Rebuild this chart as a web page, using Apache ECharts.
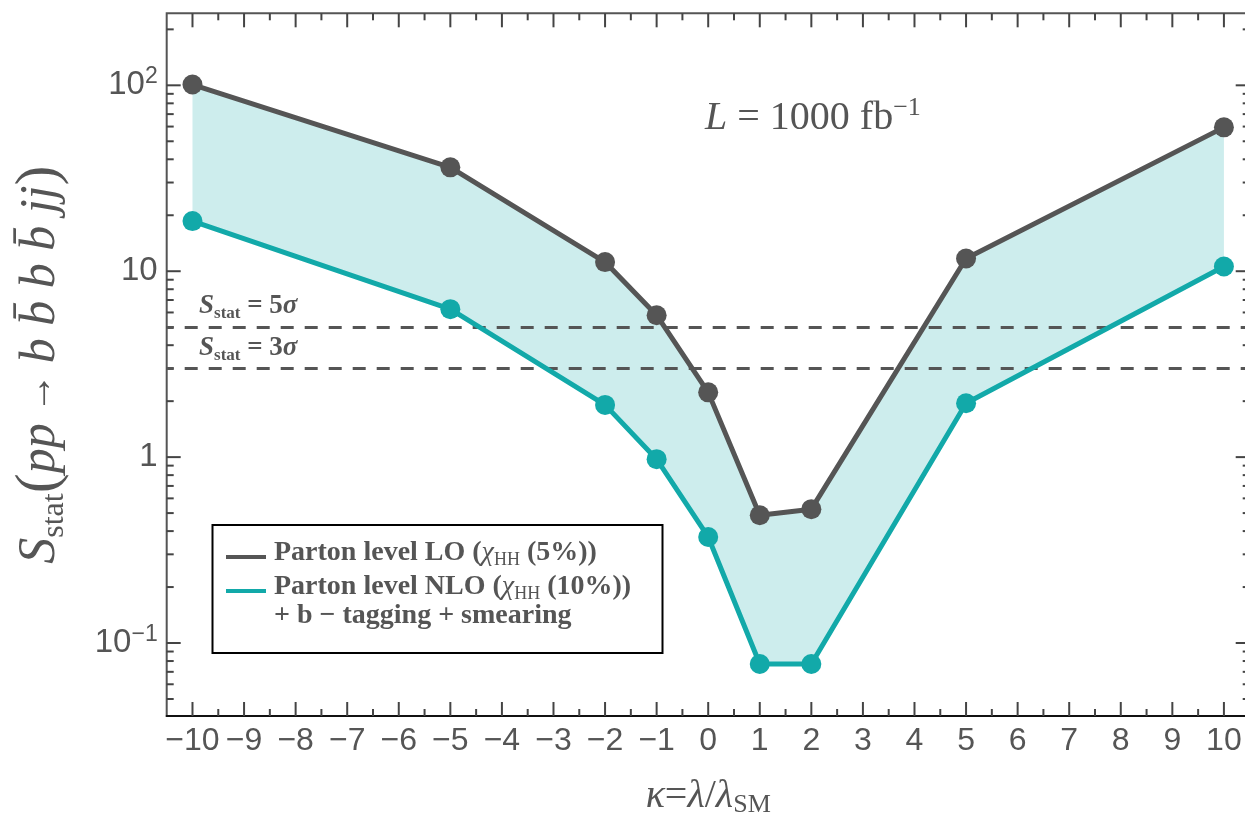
<!DOCTYPE html>
<html><head><meta charset="utf-8">
<script src="https://cdn.jsdelivr.net/npm/echarts@6/dist/echarts.min.js"></script>
<style>html,body{margin:0;padding:0;background:#fff}#c{width:1245px;height:816px}</style>
</head><body><div id="c"></div><script>
// ---- data ----
const kappa = [-10, -5, -2, -1, 0, 1, 2, 5, 10];
const loValues = [101, 36.2, 11.2, 5.8, 2.23, 0.487, 0.525, 11.7, 59.4];
const nloValues = [18.6, 6.25, 1.91, 0.975, 0.372, 0.0771, 0.0771, 1.95, 10.6];
const thresholdValues = [5, 3];
const thresholdSigmas = ['5', '3'];
const xMajorTicks = [-10,-9,-8,-7,-6,-5,-4,-3,-2,-1,0,1,2,3,4,5,6,7,8,9,10];
const xMinorTicks = [-9.5,-8.5,-7.5,-6.5,-5.5,-4.5,-3.5,-2.5,-1.5,-0.5,0.5,1.5,2.5,3.5,4.5,5.5,6.5,7.5,8.5,9.5];
const yMajorTicks = [0.1, 1, 10, 100];
const yMinorTicks = [0.05,0.06,0.07,0.08,0.09,0.2,0.3,0.4,0.5,0.6,0.7,0.8,0.9,2,3,4,5,6,7,8,9,20,30,40,50,60,70,80,90,200];
const loName = 'Parton level LO';
const nloName = 'Parton level NLO';

const X_MIN = -10.5, X_MAX = 10.5, Y_MIN = 0.0405, Y_MAX = 244;

const serif = '"Liberation Serif", "Times New Roman", serif';
const sans = '"Liberation Sans", Arial, sans-serif';
const TEXT = '#555555';
const LO_COLOR = '#555555', NLO_COLOR = '#12a9a9', FILL = '#cdeded';
const TICK_COLOR = '#444444', TICK_W = 2;

const chart = echarts.init(document.getElementById('c'));

const pairs = (xs, ys) => xs.map((x, i) => [x, ys[i]]);

function yLabel(v) {
  const l = Math.log10(v);
  const e = Math.round(l);
  if (Math.abs(l - e) > 1e-6) return '';
  if (e === 0) return '{n|1}';
  if (e === 1) return '{n|10}';
  return '{n|10}{sup|' + (e < 0 ? '−' + (-e) : e) + '}';
}
function xLabel(v) {
  if (Math.abs(v - Math.round(v)) > 1e-9) return '';
  const r = Math.round(v);
  return r < 0 ? '−' + (-r) : String(r);
}

function tickLine(x1, y1, x2, y2) {
  return {type: 'line', z2: 50, shape: {x1: x1, y1: y1, x2: x2, y2: y2}, style: {stroke: TICK_COLOR, lineWidth: TICK_W}};
}

// band between the two curves + frame ticks, all positioned by the axes' scales
function renderBand(params, api) {
  const top = kappa.map((k, i) => api.coord([k, loValues[i]]));
  const bot = kappa.map((k, i) => api.coord([k, nloValues[i]])).reverse();
  const children = [{type: 'polygon', shape: {points: top.concat(bot)}, style: {fill: FILL}}];
  const c0 = api.coord([X_MIN, Y_MIN]);
  const c1 = api.coord([X_MAX, Y_MAX]);
  const xL = c0[0], yB = c0[1], xR = c1[0], yT = c1[1];
  const addX = (v, len) => {
    const px = api.coord([v, Y_MIN])[0];
    children.push(tickLine(px, yB, px, yB - len));
    children.push(tickLine(px, yT, px, yT + len));
  };
  const addY = (v, len) => {
    const py = api.coord([X_MIN, v])[1];
    children.push(tickLine(xL, py, xL + len, py));
    children.push(tickLine(xR, py, xR - len, py));
  };
  xMajorTicks.forEach(v => addX(v, 14));
  xMinorTicks.forEach(v => addX(v, 7));
  yMajorTicks.forEach(v => addY(v, 14));
  yMinorTicks.forEach(v => addY(v, 7));
  return {type: 'group', children: children};
}

const thrRich = {
  s: {fontFamily: serif, fontSize: 27, fontStyle: 'italic', fontWeight: 'bold', fill: TEXT, lineHeight: 32},
  sub: {fontFamily: serif, fontSize: 17, fontWeight: 'bold', fill: TEXT, lineHeight: 20, verticalAlign: 'bottom'},
  b: {fontFamily: serif, fontSize: 27, fontWeight: 'bold', fill: TEXT, lineHeight: 32},
  g: {fontFamily: serif, fontSize: 27, fontStyle: 'italic', fontWeight: 'bold', fill: TEXT, lineHeight: 32}
};
const legRich = {
  b: {fontFamily: serif, fontSize: 28, fontWeight: 'bold', fill: TEXT, lineHeight: 32},
  c: {fontFamily: serif, fontSize: 28, fontStyle: 'italic', fill: TEXT, lineHeight: 32},
  h: {fontFamily: serif, fontSize: 18, fill: TEXT, lineHeight: 20, verticalAlign: 'bottom'}
};

const option = {
  animation: false,
  grid: {left: 166.7, top: 13.3, width: 1083, height: 702.7, outerBoundsMode: 'none',
    show: true, borderColor: '#555', borderWidth: 2},
  xAxis: {
    type: 'value', position: 'bottom', min: X_MIN, max: X_MAX,
    axisLine: {show: true, onZero: false, lineStyle: {color: '#111', width: 2}},
    axisTick: {show: false},
    splitLine: {show: false},
    axisLabel: {margin: 9, color: TEXT, fontFamily: sans, fontSize: 32, formatter: xLabel, customValues: xMajorTicks},
    name: '{i|κ}{n|=}{i|λ}{n|/}{i|λ}{sub|SM}',
    nameLocation: 'middle', nameGap: 58,
    nameTextStyle: {rich: {
      i: {fontFamily: serif, fontSize: 40, fontStyle: 'italic', color: TEXT, lineHeight: 44},
      n: {fontFamily: serif, fontSize: 40, color: TEXT, lineHeight: 44},
      sub: {fontFamily: serif, fontSize: 26, color: TEXT, lineHeight: 26, verticalAlign: 'bottom'}
    }}
  },
  yAxis: {
    type: 'log', logBase: 10, position: 'left', min: Y_MIN, max: Y_MAX,
    axisLine: {show: false, onZero: false},
    axisTick: {show: false},
    splitLine: {show: false}, minorTick: {show: false},
    axisLabel: {margin: 9, formatter: yLabel, customValues: yMajorTicks, rich: {
      n: {fontFamily: sans, fontSize: 33, color: TEXT, lineHeight: 40},
      sup: {fontFamily: sans, fontSize: 23, color: TEXT, lineHeight: 26, verticalAlign: 'top'}
    }},
    name: '{s|S}{sub|stat}{p|(}{i|pp}{ar| → }{i|b b\u0304 b b\u0304 jj}{p|)}',
    nameLocation: 'middle', nameRotate: 90, nameGap: 96,
    nameTextStyle: {rich: {
      s: {fontFamily: serif, fontSize: 52, fontStyle: 'italic', color: TEXT, lineHeight: 60},
      sub: {fontFamily: serif, fontSize: 32, color: TEXT, lineHeight: 36, verticalAlign: 'bottom'},
      p: {fontFamily: serif, fontSize: 60, color: TEXT, lineHeight: 60},
      i: {fontFamily: serif, fontSize: 50, fontStyle: 'italic', color: TEXT, lineHeight: 60},
      ar: {fontFamily: serif, fontSize: 40, color: TEXT, lineHeight: 60}
    }}
  },
  series: [
    {type: 'custom', data: [[0, 1]], renderItem: renderBand, silent: true, z: 1},
    {type: 'line', data: pairs(kappa, nloValues), symbol: 'none', lineStyle: {opacity: 0}, silent: true, z: 3,
      markLine: {
        silent: true, symbol: 'none', label: {show: false},
        lineStyle: {color: '#555', width: 3, type: [13, 11], dashOffset: 6},
        data: thresholdValues.map(v => ({yAxis: v}))
      }
    },
    {type: 'line', name: loName, data: pairs(kappa, loValues), symbol: 'circle', symbolSize: 20,
      lineStyle: {color: LO_COLOR, width: 5}, itemStyle: {color: LO_COLOR}, z: 5},
    {type: 'line', name: nloName, data: pairs(kappa, nloValues), symbol: 'circle', symbolSize: 20,
      lineStyle: {color: NLO_COLOR, width: 5}, itemStyle: {color: NLO_COLOR}, z: 5}
  ],
  graphic: [
    {type: 'text', x: 199, y: 306, style: {text: '{s|S}{sub|stat}{b| = ' + thresholdSigmas[0] + '}{g|σ}', rich: thrRich, verticalAlign: 'middle'}},
    {type: 'text', x: 199, y: 348, style: {text: '{s|S}{sub|stat}{b| = ' + thresholdSigmas[1] + '}{g|σ}', rich: thrRich, verticalAlign: 'middle'}},
    {type: 'text', x: 705, y: 118, style: {
      text: '{i|L}{n| = 1000 fb}{sup|−1}', verticalAlign: 'middle',
      rich: {
        i: {fontFamily: serif, fontSize: 40, fontStyle: 'italic', fill: TEXT, lineHeight: 46},
        n: {fontFamily: serif, fontSize: 40, fill: TEXT, lineHeight: 46},
        sup: {fontFamily: serif, fontSize: 26, fill: TEXT, lineHeight: 28, verticalAlign: 'top'}
      }}},
    {type: 'rect', z: 20, shape: {x: 212.5, y: 525, width: 450, height: 128}, style: {fill: '#fff', stroke: '#000', lineWidth: 2}},
    {type: 'line', z: 21, shape: {x1: 226, y1: 557, x2: 266, y2: 557}, style: {stroke: LO_COLOR, lineWidth: 4}},
    {type: 'line', z: 21, shape: {x1: 226, y1: 591, x2: 266, y2: 591}, style: {stroke: NLO_COLOR, lineWidth: 4}},
    {type: 'text', z: 21, x: 274, y: 553, style: {text: '{b|' + loName + ' (}{c|χ}{h|HH}{b| (5%))}', rich: legRich, verticalAlign: 'middle'}},
    {type: 'text', z: 21, x: 274, y: 587, style: {text: '{b|' + nloName + ' (}{c|χ}{h|HH}{b| (10%))}', rich: legRich, verticalAlign: 'middle'}},
    {type: 'text', z: 21, x: 274, y: 616, style: {text: '{b|+ b − tagging + smearing}', rich: legRich, verticalAlign: 'middle'}}
  ]
};
chart.setOption(option);
</script></body></html>
